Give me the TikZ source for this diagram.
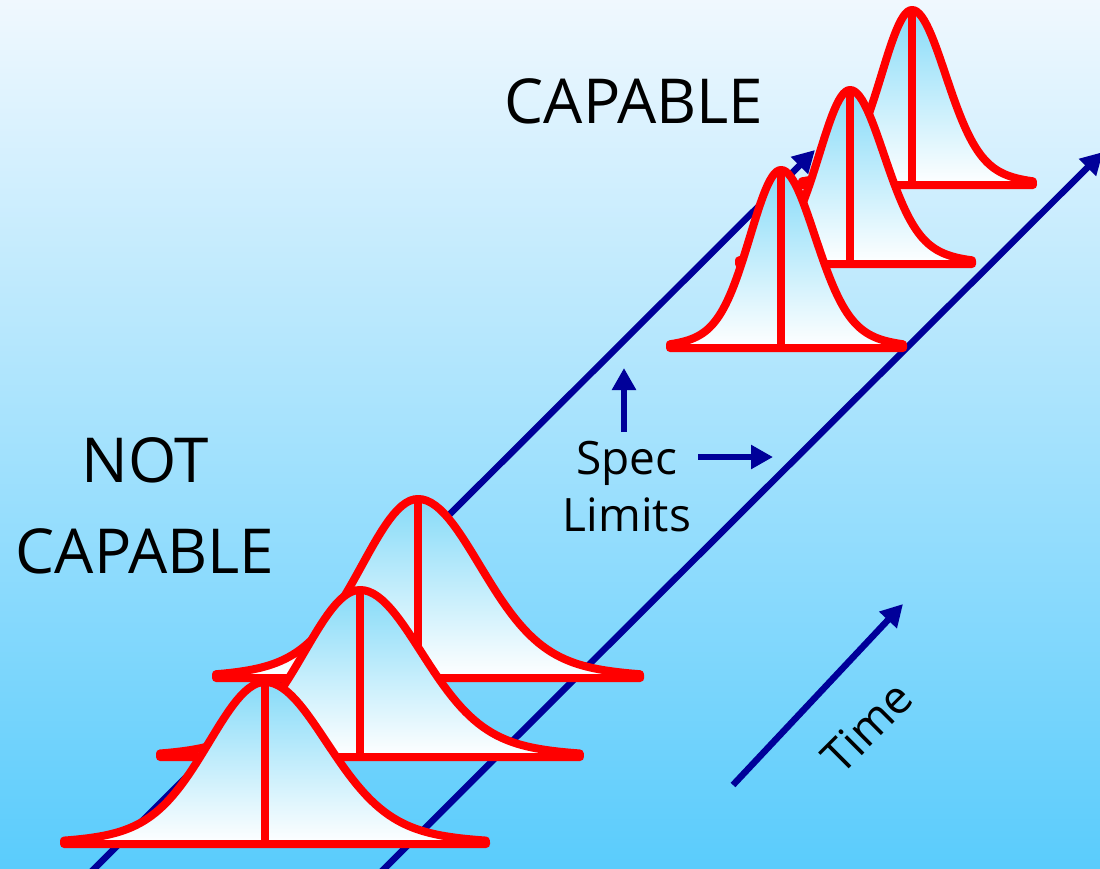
\documentclass[tikz,border=0pt]{standalone}
\usepackage{fontspec}
\setmainfont{Open Sans}
\usetikzlibrary{arrows.meta}
\definecolor{specblue}{RGB}{0,0,153}
\definecolor{bellblue}{RGB}{135,219,248}
\definecolor{skytop}{RGB}{240,248,254}
\definecolor{skybot}{RGB}{90,204,252}

\newcommand{\bellcurve}[4]{%
  \filldraw[bell] (#1-#3,#2) -- plot[domain=-1:1,samples=101]
    ({#1+#3*\x*(\x<0?1:1.1)},{#2-#4*(0.85*exp(-\x*\x/0.1458)+0.15*exp(-\x*\x/0.5))})
    -- (#1+1.1*#3,#2) -- cycle;
  \draw[bellaxis] (#1,#2) -- (#1,#2-#4);
}

\begin{document}
\begin{tikzpicture}[x=1pt,y=-1pt,
  lim/.style={specblue,line width=6.5pt,-{Triangle[length=22pt,width=23pt]}},
  bell/.style={draw=red,line width=8pt,line join=round,top color=bellblue,bottom color=white},
  bellaxis/.style={red,line width=8pt},
  lbl/.style={font=\fontsize{62}{91}\selectfont,inner sep=0pt,align=center},
  small/.style={font=\fontsize{46}{57}\selectfont,inner sep=0pt,align=center}]
\fill[top color=skytop,bottom color=skybot] (0,0) rectangle (1100,868);
\useasboundingbox (0,0) rectangle (1100,868);

\coordinate (l1a) at (88,875);
\coordinate (l1b) at (815,150);
\coordinate (l2a) at (378,875);
\coordinate (l2b) at (1103,152);
\draw[lim] (l1a) -- (l1b);
\draw[lim] (l2a) -- (l2b);

\bellcurve{418}{678}{202}{179}
\bellcurve{360}{757}{200}{167}
\bellcurve{265}{844}{201}{162}

\bellcurve{912}{185}{110}{175}
\bellcurve{850}{264}{111}{174}
\bellcurve{781}{348}{111}{178}

\node[lbl] (capable) at (634,101) {CAPABLE};
\node[lbl] (notcapable) at (145,506) {NOT\\CAPABLE};
\node[small] (spec) at (627,487) {Spec\\Limits};
\node[small,rotate=45] (time) at (867,727) {Time};

\coordinate (upa) at (624,432);
\coordinate (upb) at (624,368);
\coordinate (ria) at (698,457);
\coordinate (rib) at (773,457);
\coordinate (ta) at (733,785);
\coordinate (tb) at (903,604);
\draw[lim] (upa) -- (upb);
\draw[lim] (ria) -- (rib);
\draw[lim] (ta) -- (tb);
\end{tikzpicture}
\end{document}
